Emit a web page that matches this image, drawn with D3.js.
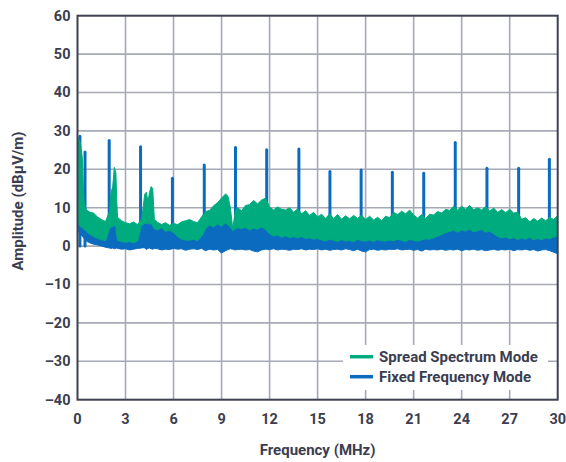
<!DOCTYPE html>
<html><head><meta charset="utf-8">
<script src="https://cdn.jsdelivr.net/npm/d3@7"></script>
<style>body{margin:0;background:#fff}svg{display:block}text{font-family:Roboto,"Noto Sans",sans-serif;font-weight:700;fill:#3a3e50}</style>
</head><body><svg id="c" width="566" height="462"></svg>
<script>
// Frequency grid (MHz)
const freq = [
 0.05,0.1,0.2,0.3,0.35,0.4,0.5,0.6,0.8,1.0,
 1.25,1.5,1.75,2.0,2.1,2.2,2.3,2.4,2.45,2.5,
 2.75,3.0,3.25,3.5,3.75,4.0,4.1,4.2,4.3,4.4,
 4.5,4.6,4.7,4.8,5.0,5.25,5.5,5.75,6.0,6.25,
 6.5,6.75,7.0,7.25,7.5,7.75,8.0,8.25,8.5,8.75,
 9.0,9.25,9.4,9.55,9.7,9.85,10.0,
 10.25,10.5,10.75,11, 11.25,11.5,11.75,12, 12.25,12.5,12.75,13, 13.25,13.5,13.75,14,
 14.25,14.5,14.75,15, 15.25,15.5,15.75,16, 16.25,16.5,16.75,17, 17.25,17.5,17.75,18,
 18.25,18.5,18.75,19, 19.25,19.5,19.75,20, 20.25,20.5,20.75,21, 21.25,21.5,21.75,22,
 22.25,22.5,22.75,23, 23.25,23.5,23.75,24, 24.25,24.5,24.75,25, 25.25,25.5,25.75,26,
 26.25,26.5,26.75,27, 27.25,27.5,27.75,28, 28.25,28.5,28.75,29, 29.25,29.5,29.75,30
];
// Spread Spectrum Mode: upper / lower envelope (dBµV/m)
const spreadHi = [
 28,27.8,26.5,23,17,12,10,9.3,8.8,8.6,
 7.6,6.9,6.4,9,14,15.5,20.5,19,12,7.5,
 6.6,6.1,5.8,6.3,5.6,7,10,13.5,14,11.5,
 14,15.5,15,7,6.2,5.6,6.1,5.4,5.9,5.6,
 6.3,6.6,6.9,6.4,6.1,7.6,9,9.3,10.5,11.3,
 12.5,13.6,13,10,4.5,9,10,
 9.2,10.6,10.8,11.9, 11,12,12.5,10.2, 9.4,10.2,9.6,9.4, 10,8.8,9.7,8.4,
 9.2,8,8.8,7.6, 8.3,7.2,8.4,7.2, 8.2,7,7.9,7.1, 8,7.2,8.1,6.9,
 7.8,6.8,7.5,6.6, 7.8,7.4,8.8,8.2, 9.1,8.4,9.4,8.1, 7.3,8.2,7.2,8.3,
 8.1,9,8.6,9.6, 9.3,10.4,9.4,10.4, 9.6,10.6,9.4,10, 9.4,10.3,9.1,9.9,
 8.8,9.5,8.7,9.6, 8.6,8.8,7,7.4, 6.3,7.2,6.5,7.3, 6.6,7.5,6.9,8
];
const spreadLo = [
 6,5.5,5,4.8,4.6,4.4,4,3.6,3,2.5,
 2,1.6,1.4,4.5,5,5,5.5,5,3,1.5,
 1.2,1,1.2,0.9,1.3,5.5,5.5,6,5.8,6,
 5.6,6,5.2,4.5,4.2,4.8,3.8,4.2,3.5,2.5,
 1.8,1.6,1.5,1.8,1.4,2.5,4.5,5.5,5,5.8,
 5.2,6,5.5,5,4,4.5,4.8,
 4.6,4.9,4.2,4.7, 4.4,5,4.3,3.2, 2.6,2.9,2.3,2.7, 2.2,2.5,2.1,2.5,
 2,2.2,1.8,2, 1.6,1.3,1.8,1.5, 1.2,1.7,1.3,1.5, 1.1,1.8,1.4,1.3,
 1.6,1.2,1.7,1.4, 1.3,1.6,1.4,1.8, 1.5,1.2,1.7,1.5, 1.3,1.6,1.9,1.8,
 2.2,2.6,3,3.5, 3.8,4.1,3.6,4.2, 3.9,4.4,3.7,4, 4.3,3.6,3.9,3.2,
 2.5,2.1,2.4,1.9, 2.2,1.7,2.1,1.8, 2.3,1.6,2,1.7, 2.1,1.9,2.4,2.5
];
// Fixed Frequency Mode: noise-floor band and harmonic spikes
const fixedHi = [
 6.5,6,5.5,5.2,5,4.8,4.5,4,3.5,3,
 3,2.5,3,5,5.5,5.5,5.5,5.5,4,2.5,
 2,2,2,1.8,2.2,6,6,6.5,6.3,6.3,
 6,6.3,5.8,5,5,5.3,4.5,4.8,4,3.2,
 2.5,2.3,2.2,2.5,2.2,3.2,5.2,6,6,6.3,
 5.8,6.4,6,5.6,5,5.2,5.4,
 5.2,5.5,4.8,5.2, 5,5.5,5,4, 3.3,3.6,3,3.4, 3,3.2,2.9,3.2,
 2.8,3,2.6,2.8, 2.4,2.1,2.6,2.3, 2,2.5,2.1,2.3, 1.9,2.6,2.2,2.1,
 2.4,2,2.5,2.2, 2.1,2.4,2.2,2.6, 2.3,2,2.5,2.3, 2.1,2.4,2.7,2.6,
 3,3.4,3.8,4.3, 4.6,4.9,4.4,5, 4.7,5.2,4.5,4.8, 5.1,4.4,4.7,4,
 3.3,2.9,3.2,2.7, 3,2.5,2.9,2.6, 3.1,2.4,2.8,2.5, 2.9,2.7,3.2,3.3
];
const fixedLo = [
 4,3.5,3,2.6,2.3,2,1.6,1.2,0.8,0.5,
 0.3,0,-0.3,-0.5,-0.6,-0.5,-0.7,-0.6,-0.5,-0.6,
 -0.8,-0.7,-1,-0.8,-0.6,-0.5,-0.4,-0.5,-0.9,-0.6,
 -0.5,-0.7,-0.8,-0.6,-0.7,-1,-0.8,-0.9,-0.6,-0.8,
 -0.7,-1.1,-0.8,-0.7,-0.9,-0.6,-1.2,-0.8,-1,-0.9,
 -1.8,-1.2,-0.9,-0.7,-0.8,-1,-0.9,
 -0.8,-1,-0.9,-1.3, -1.5,-1,-0.8,-0.9, -0.7,-1,-0.8,-0.9, -1.1,-0.8,-0.9,-0.7,
 -1,-0.8,-0.9,-0.7, -1,-0.8,-1.1,-0.9, -0.8,-1,-0.7,-0.9, -1.2,-0.8,-1.3,-1.5,
 -0.9,-0.8,-1.1,-0.9, -1,-0.8,-0.9,-0.7, -1,-0.9,-0.8,-1.1, -0.9,-1.3,-0.8,-1,
 -0.9,-1,-0.8,-1.1, -0.9,-1,-0.8,-1.2, -0.9,-1,-0.8,-1.1, -0.9,-1.2,-1,-0.8,
 -1.1,-0.9,-1,-0.8, -1.2,-0.9,-1,-0.8, -1.1,-0.9,-1.3,-1, -0.9,-1.2,-1.6,-2
];
const spikeFreq = [0.15,0.47,1.98,3.94,5.93,7.92,9.87,11.82,13.83,15.77,17.72,19.67,21.63,23.6,25.58,27.56,29.48];
const spikePeak = [28.6,24.5,27.5,25.9,17.7,21.1,25.7,25.1,25.3,19.4,19.8,19.2,19.0,27.0,20.3,20.3,22.6];

const xTicks = [0,3,6,9,12,15,18,21,24,27,30];
const yTicks = [-40,-30,-20,-10,0,10,20,30,40,50,60];
const seriesNames = ["Spread Spectrum Mode","Fixed Frequency Mode"];
const colors = ["#00ab7e","#0b6cbf"];

const svg = d3.select("#c");
const L=77.5, R=557.7, T=15.7, B=399.7;
const x = d3.scaleLinear().domain([0,30]).range([L,R]);
const y = d3.scaleLinear().domain([-40,60]).range([B,T]);

// grid
const grid = svg.append("g").attr("stroke","#a6a9b6").attr("stroke-width",1.6);
xTicks.slice(1,-1).forEach(t=>grid.append("line").attr("x1",x(t)).attr("x2",x(t)).attr("y1",T).attr("y2",B));
yTicks.slice(1,-1).forEach(t=>grid.append("line").attr("y1",y(t)).attr("y2",y(t)).attr("x1",L).attr("x2",R));

svg.append("defs").append("clipPath").attr("id","clip").append("rect")
  .attr("x",L).attr("y",T).attr("width",R-L).attr("height",B-T);
const plot = svg.append("g").attr("clip-path","url(#clip)");

const fixed = freq.map((f,i)=>({f,lo:fixedLo[i],hi:fixedHi[i]}));
const spread = freq.map((f,i)=>({f,lo:spreadLo[i],hi:spreadHi[i]}));
const area = d3.area().x(d=>x(d.f)).y0(d=>y(d.lo)).y1(d=>y(d.hi));

plot.append("path").datum(fixed).attr("d",area).attr("fill",colors[1]).attr("stroke",colors[1]).attr("stroke-width",1);
plot.selectAll("line.spike").data(spikeFreq).join("line").attr("class","spike")
  .attr("x1",d=>x(d)).attr("x2",d=>x(d)).attr("y1",y(0)).attr("y2",(d,i)=>y(spikePeak[i]))
  .attr("stroke",colors[1]).attr("stroke-width",3).attr("stroke-linecap","round");
plot.append("path").datum(spread).attr("d",area).attr("fill",colors[0]).attr("stroke",colors[0]).attr("stroke-width",1);

// frame
svg.append("rect").attr("x",L).attr("y",T).attr("width",R-L).attr("height",B-T)
  .attr("fill","none").attr("stroke","#3d4151").attr("stroke-width",2);

// tick labels
svg.append("g").selectAll("text").data(yTicks).join("text")
  .attr("x",70.5).attr("y",d=>y(d)).attr("dy","0.34em").attr("text-anchor","end")
  .attr("font-size",14.5).text(d=>d<0?"\u2013"+Math.abs(d):d);
svg.append("g").selectAll("text").data(xTicks).join("text")
  .attr("x",d=>x(d)).attr("y",424).attr("text-anchor","middle")
  .attr("font-size",14.5).text(d=>d);

// axis titles
svg.append("text").attr("x",(L+R)/2).attr("y",455).attr("text-anchor","middle").attr("font-size",15)
  .text("Frequency (MHz)");
svg.append("text").attr("transform","translate(23,201) rotate(-90)").attr("text-anchor","middle").attr("font-size",15)
  .text("Amplitude (dBµV/m)");

// legend
const lg = svg.append("g");
lg.append("rect").attr("x",343).attr("y",345).attr("width",205).attr("height",45).attr("fill","#fff");
seriesNames.forEach((n,i)=>{
  const yy = 356.7 + i*20;
  lg.append("line").attr("x1",350).attr("x2",373).attr("y1",yy).attr("y2",yy)
    .attr("stroke",colors[i]).attr("stroke-width",3.5);
  lg.append("text").attr("x",379).attr("y",yy+5.6).attr("font-size",15).text(n);
});
</script></body></html>
